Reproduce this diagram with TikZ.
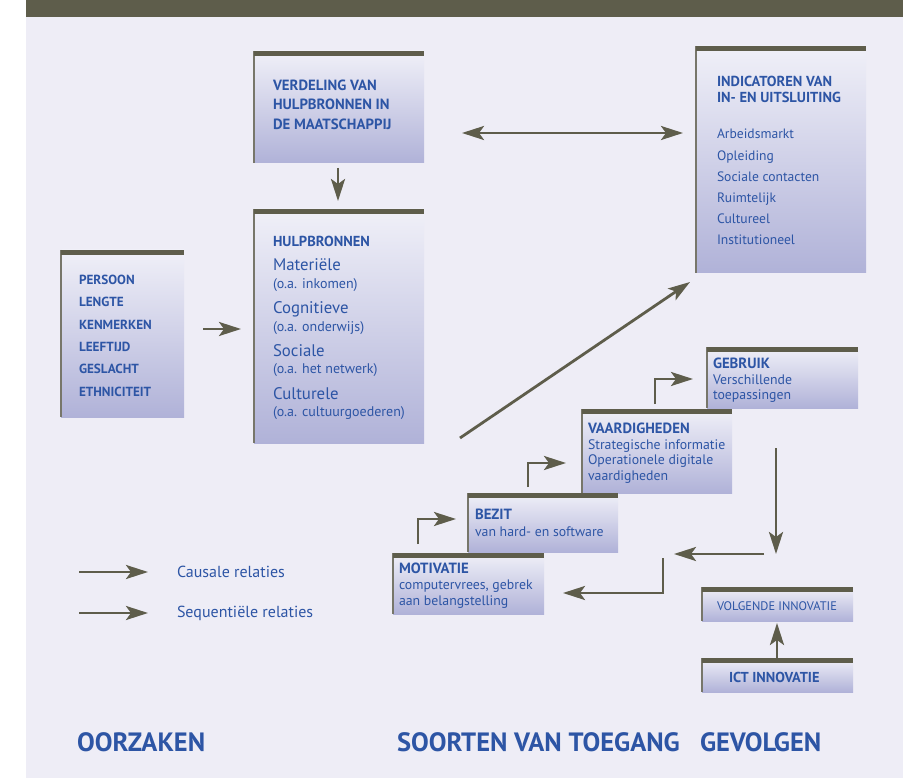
\documentclass[tikz,border=0pt]{standalone}
\usepackage{fontspec}
\setmainfont{PT Sans}
\usetikzlibrary{arrows.meta}
\definecolor{bgc}{HTML}{EEEDF6}
\definecolor{barc}{HTML}{5E5D4B}
\definecolor{tblue}{HTML}{2D55A5}
\definecolor{gtop}{HTML}{F0F0F8}
\definecolor{gbot}{HTML}{B0B2D8}
\definecolor{edgec}{HTML}{77766A}
\newcommand\mkpanel[5]{%
  \node[panel, minimum width=#4pt, minimum height=#5pt] (#1) at (#2,#3) {};
  \draw[edgeline] (#1.north west) -- (#1.south west);
  \fill[barc] (#1.north west) rectangle ([yshift=-5pt]#1.north east);
}
\begin{document}
\begin{tikzpicture}[x=1pt,y=-1pt,
  panel/.style={draw=none, inner sep=0pt, outer sep=0pt, top color=gtop, bottom color=gbot, anchor=north west},
  edgeline/.style={draw=edgec, line width=1.6pt},
  txt/.style={text=tblue, inner sep=0pt, outer sep=0pt, align=left, anchor=north west},
  ltxt/.style={text=tblue, inner sep=0pt, outer sep=0pt, anchor=base west},
  arr/.style={draw=barc, line width=2.8pt, -{Stealth[length=22pt,width=14pt,inset=5pt]}},
  darr/.style={draw=barc, line width=2.8pt, {Stealth[length=22pt,width=14pt,inset=5pt]}-{Stealth[length=22pt,width=14pt,inset=5pt]}}
]
\useasboundingbox (0,0) rectangle (903,778);
\fill[white] (0,0) rectangle (903,778);
\fill[bgc] (26,0) rectangle (903,778);
\fill[barc] (26,0) rectangle (903,17);

% panels
\mkpanel{verd}{254}{51}{170}{112}
\mkpanel{hulp}{254}{209}{170}{234}
\mkpanel{pers}{61}{250}{123}{167}
\mkpanel{ind}{696}{46}{170}{227}
\mkpanel{gebr}{707}{347}{151}{61}
\mkpanel{vaard}{582}{409}{150}{84}
\mkpanel{bezit}{468}{493}{150}{59}
\mkpanel{motiv}{393}{553}{151}{61}
\mkpanel{volg}{702}{587}{151}{34}
\mkpanel{ict}{702}{658}{151}{34}

% texts
\node[txt, font=\fontsize{14.8}{19.5}\selectfont\bfseries] (tverd) at (273,79.6) {VERDELING VAN\\HULPBRONNEN IN\\DE MAATSCHAPPIJ};

\node[ltxt, font=\fontsize{14.5}{17}\selectfont\bfseries] (h0) at (273,247) {HULPBRONNEN};
\node[ltxt, font=\fontsize{16.8}{19}\selectfont] (h1) at (273,271) {Materiële};
\node[ltxt, font=\fontsize{14}{16}\selectfont] (h2) at (273,289) {(o.a. inkomen)};
\node[ltxt, font=\fontsize{16.8}{19}\selectfont] (h3) at (273,313) {Cognitieve};
\node[ltxt, font=\fontsize{14}{16}\selectfont] (h4) at (273,331) {(o.a. onderwijs)};
\node[ltxt, font=\fontsize{16.8}{19}\selectfont] (h5) at (273,356) {Sociale};
\node[ltxt, font=\fontsize{14}{16}\selectfont] (h6) at (273,373) {(o.a. het netwerk)};
\node[ltxt, font=\fontsize{16.8}{19}\selectfont] (h7) at (273,399) {Culturele};
\node[ltxt, font=\fontsize{14}{16}\selectfont] (h8) at (273,416) {(o.a. cultuurgoederen)};

\node[txt, font=\fontsize{13.2}{22.4}\selectfont\bfseries] (tpers) at (79,274.8) {PERSOON\\LENGTE\\KENMERKEN\\LEEFTIJD\\GESLACHT\\ETHNICITEIT};

\node[txt, font=\fontsize{14.5}{16}\selectfont\bfseries] (tind) at (717,75.8) {INDICATOREN VAN\\IN- EN UITSLUITING};
\node[txt, font=\fontsize{13.6}{21.2}\selectfont] (tindi) at (717,129.3) {Arbeidsmarkt\\Opleiding\\Sociale contacten\\Ruimtelijk\\Cultureel\\Institutioneel};

\node[txt, font=\fontsize{13.8}{15.8}\selectfont] (tgebr) at (713,357.8) {{\fontsize{14.8}{15.8}\selectfont\bfseries GEBRUIK}\\Verschillende\\toepassingen};
\node[txt, font=\fontsize{13.8}{15.7}\selectfont] (tvaard) at (588,422.8) {{\fontsize{14.8}{15.7}\selectfont\bfseries VAARDIGHEDEN}\\Strategische informatie\\Operationele digitale\\vaardigheden};
\node[txt, font=\fontsize{13.8}{17}\selectfont] (tbezit) at (475,508.8) {{\fontsize{14.8}{17}\selectfont\bfseries BEZIT}\\van hard- en software};
\node[txt, font=\fontsize{13.8}{16}\selectfont] (tmotiv) at (399,562.8) {{\fontsize{14.8}{16}\selectfont\bfseries MOTIVATIE}\\computervrees, gebrek\\aan belangstelling};

\node[ltxt, font=\fontsize{12.4}{14}\selectfont] (tvolg) at (717,610) {VOLGENDE INNOVATIE};
\node[ltxt, font=\fontsize{14.4}{16}\selectfont\bfseries] (tict) at (729,682) {ICT INNOVATIE};

\node[ltxt, font=\fontsize{16}{18}\selectfont] (lc) at (177,577) {Causale relaties};
\node[ltxt, font=\fontsize{16}{18}\selectfont] (ls) at (177,617) {Sequentiële relaties};

\node[ltxt, font=\fontsize{26.5}{28}\selectfont\bfseries] (boor) at (77,751) {OORZAKEN};
\node[ltxt, font=\fontsize{26.5}{28}\selectfont\bfseries] (bsoo) at (397,751) {SOORTEN VAN TOEGANG};
\node[ltxt, font=\fontsize{26.5}{28}\selectfont\bfseries] (bgev) at (700,751) {GEVOLGEN};

% arrow end points
\coordinate (a1s) at (338,168); \coordinate (a1e) at (338,201);
\coordinate (a2s) at (203,329); \coordinate (a2e) at (241,329);
\coordinate (a3s) at (462,133); \coordinate (a3e) at (683,133);
\coordinate (a4s) at (460,438); \coordinate (a4e) at (690,282);
\coordinate (a5s) at (418,544); \coordinate (a5e) at (456,519);
\coordinate (a6s) at (528,487); \coordinate (a6e) at (566,463);
\coordinate (a7s) at (655,404); \coordinate (a7e) at (693,379);
\coordinate (a8s) at (776,448); \coordinate (a8e) at (776,554);
\coordinate (a9s) at (764,554); \coordinate (a9e) at (674,554);
\coordinate (a10s) at (663,558); \coordinate (a10e) at (563,593);
\coordinate (a11s) at (777,658); \coordinate (a11e) at (777,623);
\coordinate (l1s) at (79,572); \coordinate (l1e) at (148,572);
\coordinate (l2s) at (79,613); \coordinate (l2e) at (148,613);

\draw[arr] (a1s) -- (a1e);
\draw[arr] (a2s) -- (a2e);
\draw[darr] (a3s) -- (a3e);
\draw[arr] (a4s) -- (a4e);
\draw[arr] (a5s) |- (a5e);
\draw[arr] (a6s) |- (a6e);
\draw[arr] (a7s) |- (a7e);
\draw[arr] (a8s) -- (a8e);
\draw[arr] (a9s) -- (a9e);
\draw[arr] (a10s) |- (a10e);
\draw[arr] (a11s) -- (a11e);
\draw[arr] (l1s) -- (l1e);
\draw[arr] (l2s) -- (l2e);
\end{tikzpicture}
\end{document}
